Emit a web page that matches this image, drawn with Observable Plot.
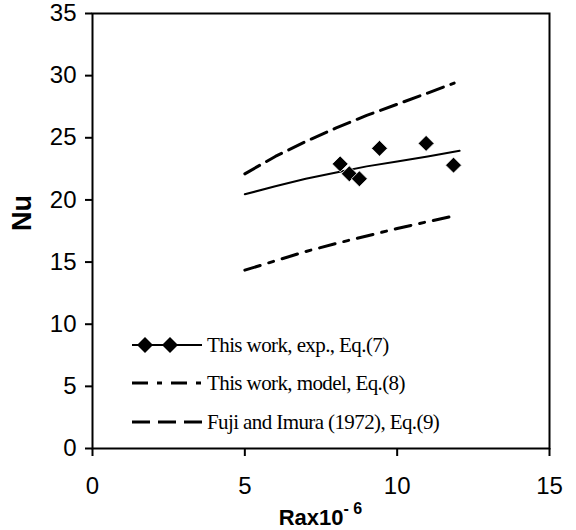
<!DOCTYPE html>
<html>
<head>
<meta charset="utf-8">
<script src="https://cdn.jsdelivr.net/npm/d3@7"></script>
<script src="https://cdn.jsdelivr.net/npm/@observablehq/plot@0.6"></script>
<style>
  html, body { margin: 0; padding: 0; background: #fff; }
</style>
</head>
<body>
<div id="chart"></div>
<script>
// Experimental points
const expRa = [8.13, 8.43, 8.76, 9.42, 10.95, 11.85];
const expNu = [22.9, 22.1, 21.7, 24.15, 24.55, 22.8];
// This work, exp., Eq.(7) fit
const fitRa = [5, 6, 7, 8, 9, 10, 11, 12.05];
const fitNu = [20.45, 21.1, 21.7, 22.2, 22.7, 23.1, 23.5, 23.95];
// This work, model, Eq.(8)
const modelRa = [5, 6, 7, 8, 9, 10, 11, 11.85];
const modelNu = [14.35, 15.1, 15.85, 16.5, 17.1, 17.7, 18.25, 18.7];
// Fuji and Imura (1972), Eq.(9)
const fujiRa = [5, 6, 7, 8, 9, 10, 11, 11.87];
const fujiNu = [22.1, 23.5, 24.7, 25.8, 26.8, 27.7, 28.6, 29.4];
// Ticks and labels
const xTicks = [0, 5, 10, 15];
const yTicks = [0, 5, 10, 15, 20, 25, 30, 35];
const legendLabels = ["This work, exp., Eq.(7)", "This work, model, Eq.(8)", "Fuji and Imura (1972), Eq.(9)"];

const zip = (xs, ys) => xs.map((x, i) => ({x, y: ys[i]}));
const pts = zip(expRa, expNu);
const fit = zip(fitRa, fitNu);
const model = zip(modelRa, modelNu);
const fuji = zip(fujiRa, fujiNu);

const W = 576, H = 530, ML = 92, MR = 27, MT = 13, MB = 82;

const plot = Plot.plot({
  width: W, height: H,
  marginLeft: ML, marginRight: MR, marginTop: MT, marginBottom: MB,
  style: {fontFamily: "'Liberation Sans', Arial, sans-serif", fontSize: "24px", color: "#000", background: "#fff"},
  x: {domain: [0, 15], ticks: xTicks},
  y: {domain: [0, 35], ticks: yTicks},
  marks: [
    Plot.frame({stroke: "#000", strokeWidth: 2}),
    Plot.axisY({ticks: yTicks, tickSize: 7, tickPadding: 9, strokeWidth: 2, fontSize: 24, label: null}),
    Plot.axisX({ticks: xTicks, tickSize: 8, tickPadding: 20, strokeWidth: 2, fontSize: 24, label: null}),
    Plot.line(fuji, {x: "x", y: "y", stroke: "#000", strokeWidth: 3, strokeDasharray: "17,8", curve: "linear"}),
    Plot.line(model, {x: "x", y: "y", stroke: "#000", strokeWidth: 3, strokeDasharray: "16,9,5,9", curve: "linear"}),
    Plot.line(fit, {x: "x", y: "y", stroke: "#000", strokeWidth: 2, curve: "linear"}),
    Plot.dot(pts, {x: "x", y: "y", symbol: "diamond2", r: 7.2, fill: "#000", stroke: "#fff", strokeWidth: 0.8}),
    Plot.text(["Nu"], {frameAnchor: "left", rotate: -90, dx: -70, fontWeight: "bold", fontSize: 27, fill: "#000"})
  ]
});

const svg = d3.select(plot);
const xs = plot.scale("x");
const cx = (xs.apply(0) + xs.apply(15)) / 2;

// X-axis title with superscript
const xt = svg.append("text")
  .attr("x", cx).attr("y", H - 5)
  .attr("text-anchor", "middle")
  .attr("font-family", "'Liberation Sans', Arial, sans-serif")
  .attr("font-weight", "bold").attr("font-size", 22).attr("fill", "#000");
xt.append("tspan").text("Rax10");
xt.append("tspan").attr("dy", -11).attr("font-size", 16).text("- 6");

// Legend
const lg = svg.append("g").attr("text-anchor", "start");
const lx0 = 132, lx1 = 202, tx = 207;
const rows = [345, 383, 422];
const styles = [
  {w: 2, dash: null},
  {w: 3, dash: "16,9,5,9"},
  {w: 3, dash: "18,8"}
];
rows.forEach((ry, i) => {
  const l = lg.append("line").attr("x1", lx0).attr("x2", lx1).attr("y1", ry).attr("y2", ry)
    .attr("stroke", "#000").attr("stroke-width", styles[i].w);
  if (styles[i].dash) l.attr("stroke-dasharray", styles[i].dash);
  lg.append("text").attr("x", tx).attr("y", ry).attr("dy", "0.35em")
    .attr("text-anchor", "start")
    .attr("font-family", "'Liberation Serif', 'Times New Roman', serif")
    .attr("font-size", 21).attr("letter-spacing", -0.6).attr("fill", "#000")
    .text(legendLabels[i]);
});
const dsym = d3.symbol(d3.symbolDiamond2, Math.PI * 7.2 * 7.2)();
[145, 170].forEach(dx => lg.append("path").attr("d", dsym)
  .attr("transform", `translate(${dx},${rows[0]})`).attr("fill", "#000"));

document.getElementById("chart").appendChild(plot);
</script>
</body>
</html>
